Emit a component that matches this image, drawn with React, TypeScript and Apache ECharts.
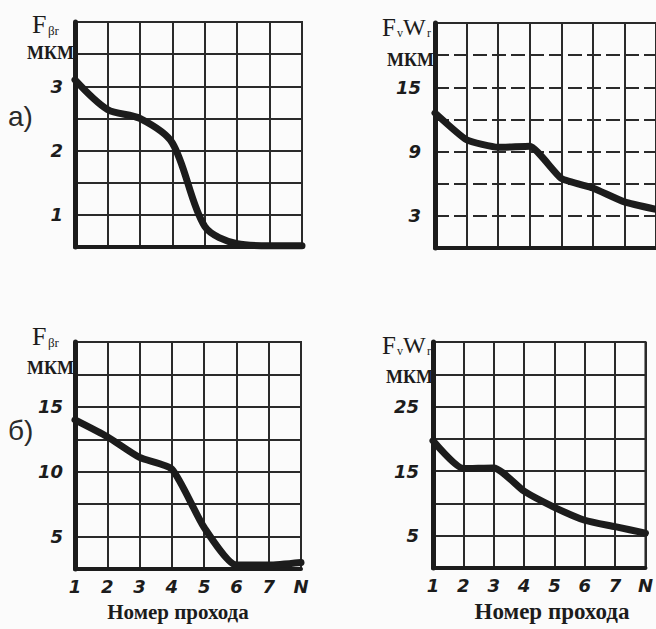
import React, { useEffect, useRef } from "react";
import * as echarts from "echarts";

const passes = ["1", "2", "3", "4", "5", "6", "7", "N"];
const fbrA = [3.1, 2.64, 2.5, 2.12, 0.82, 0.55, 0.52, 0.52];
const fvwrA = [12.6, 10.1, 9.4, 9.5, 6.5, 5.6, 4.3, 3.6];
const fbrB = [14.0, 12.7, 11.1, 10.2, 5.7, 2.8, 2.8, 3.0];
const fvwrB = [19.7, 15.4, 15.5, 11.9, 9.4, 7.4, 6.4, 5.4];
const ticksFbrA = [1, 2, 3];
const ticksFvwrA = [3, 9, 15];
const ticksFbrB = [5, 10, 15];
const ticksFvwrB = [5, 15, 25];
const xTitle = "Номер прохода";
const unit = "МКМ";

const INK = "#1c1c1c";
const GRIDC = "#2a2a2a";

export default function App() {
  const ref = useRef<HTMLDivElement>(null);
  useEffect(() => {
    if (!ref.current) return;
    const chart = echarts.init(ref.current, null, { renderer: "svg" });

    const grids = [
      { left: 75, top: 22, width: 227, height: 225 },
      { left: 435, top: 23, width: 225, height: 225 },
      { left: 75, top: 342, width: 226, height: 227 },
      { left: 433, top: 342, width: 226, height: 226 },
    ].map((g) => ({ ...g, show: true, borderColor: GRIDC, borderWidth: 2, backgroundColor: "transparent" }));

    const xAxis = [0, 1, 2, 3].map((i) => ({
      type: "category",
      gridIndex: i,
      data: passes,
      boundaryGap: false,
      axisLine: { show: true, lineStyle: { color: INK, width: 4 } },
      axisTick: { show: false },
      axisLabel: {
        show: i >= 2,
        margin: 8,
        color: INK,
        fontSize: 18,
        fontStyle: "italic",
        fontWeight: "bold",
        fontFamily: "DejaVu Sans",
      },
      splitLine: { show: true, lineStyle: { color: GRIDC, width: 2 } },
    }));

    const yDefs = [
      { min: 0.5, max: 4, interval: 0.5, ticks: ticksFbrA, margin: 12, dashed: false },
      { min: 0, max: 21, interval: 3, ticks: ticksFvwrA, margin: 14, dashed: true },
      { min: 2.5, max: 20, interval: 2.5, ticks: ticksFbrB, margin: 12, dashed: false },
      { min: 0, max: 35, interval: 5, ticks: ticksFvwrB, margin: 14, dashed: false },
    ];
    const yAxis = yDefs.map((d, i) => ({
      type: "value",
      gridIndex: i,
      min: d.min,
      max: d.max,
      interval: d.interval,
      axisLine: { show: true, lineStyle: { color: INK, width: 5 } },
      axisTick: { show: false },
      axisLabel: {
        margin: d.margin,
        color: INK,
        fontSize: 18,
        fontStyle: "italic",
        fontWeight: "bold",
        fontFamily: "DejaVu Sans",
        formatter: (v: number) => (d.ticks.some((t) => Math.abs(t - v) < 1e-6) ? String(v) : ""),
      },
      splitLine: {
        show: true,
        lineStyle: { color: GRIDC, width: 2, type: d.dashed ? [14, 5] : "solid" },
      },
    }));

    const datas = [fbrA, fvwrA, fbrB, fvwrB];
    const smooths = [0.3, 0.15, 0.2, 0.2];
    const series = datas.map((d, i) => ({
      type: "line",
      xAxisIndex: i,
      yAxisIndex: i,
      data: d,
      smooth: smooths[i],
      showSymbol: false,
      lineStyle: { color: INK, width: 7, cap: "round", join: "round" },
      z: 5,
    }));

    const serif = "Liberation Serif";
    const txt = (x: number, y: number, text: string, fontSize: number, extra: any = {}) => ({
      type: "text",
      x,
      y,
      style: {
        text,
        fontSize,
        fontFamily: serif,
        fill: INK,
        textAlign: "left",
        textVerticalAlign: "middle",
        ...extra,
      },
    });

    const fvwr = (y: number) => [
      txt(382, y, "F", 25),
      txt(397, y + 6, "v", 12),
      txt(403, y, "W", 24),
      txt(427, y + 6, "r", 12),
    ];

    const graphic = [
      // panel a) left
      txt(32, 24, "F", 26),
      txt(48, 30, "βr", 13),
      txt(74, 53, unit, 18, { textAlign: "right", fontWeight: "bold" }),
      // panel a) right
      ...fvwr(27),
      txt(434, 60, unit, 18, { textAlign: "right", fontWeight: "bold" }),
      // panel б) left
      txt(32, 336, "F", 26),
      txt(48, 342, "βr", 13),
      txt(74, 368, unit, 18, { textAlign: "right", fontWeight: "bold" }),
      // panel б) right
      ...fvwr(345),
      txt(433, 377, unit, 18, { textAlign: "right", fontWeight: "bold" }),
      // panel labels
      {
        type: "text",
        x: 8,
        y: 116,
        style: { text: "а)", fontSize: 28, fontFamily: "Liberation Sans", fill: "#2a2a2a", textVerticalAlign: "middle" },
      },
      {
        type: "text",
        x: 8,
        y: 430,
        style: { text: "б)", fontSize: 28, fontFamily: "Liberation Sans", fill: "#2a2a2a", textVerticalAlign: "middle" },
      },
      // axis titles
      txt(178, 612, xTitle, 21, { textAlign: "center", fontWeight: "bold" }),
      txt(552, 611, xTitle, 23, { textAlign: "center", fontWeight: "bold" }),
    ];

    chart.setOption({
      animation: false,
      backgroundColor: "#fbfbfb",
      grid: grids,
      xAxis,
      yAxis,
      series,
      graphic,
    });
    return () => chart.dispose();
  }, []);

  return (
    <div
      ref={ref}
      style={{ position: "fixed", left: 0, top: 0, width: 656, height: 629 }}
    />
  );
}
